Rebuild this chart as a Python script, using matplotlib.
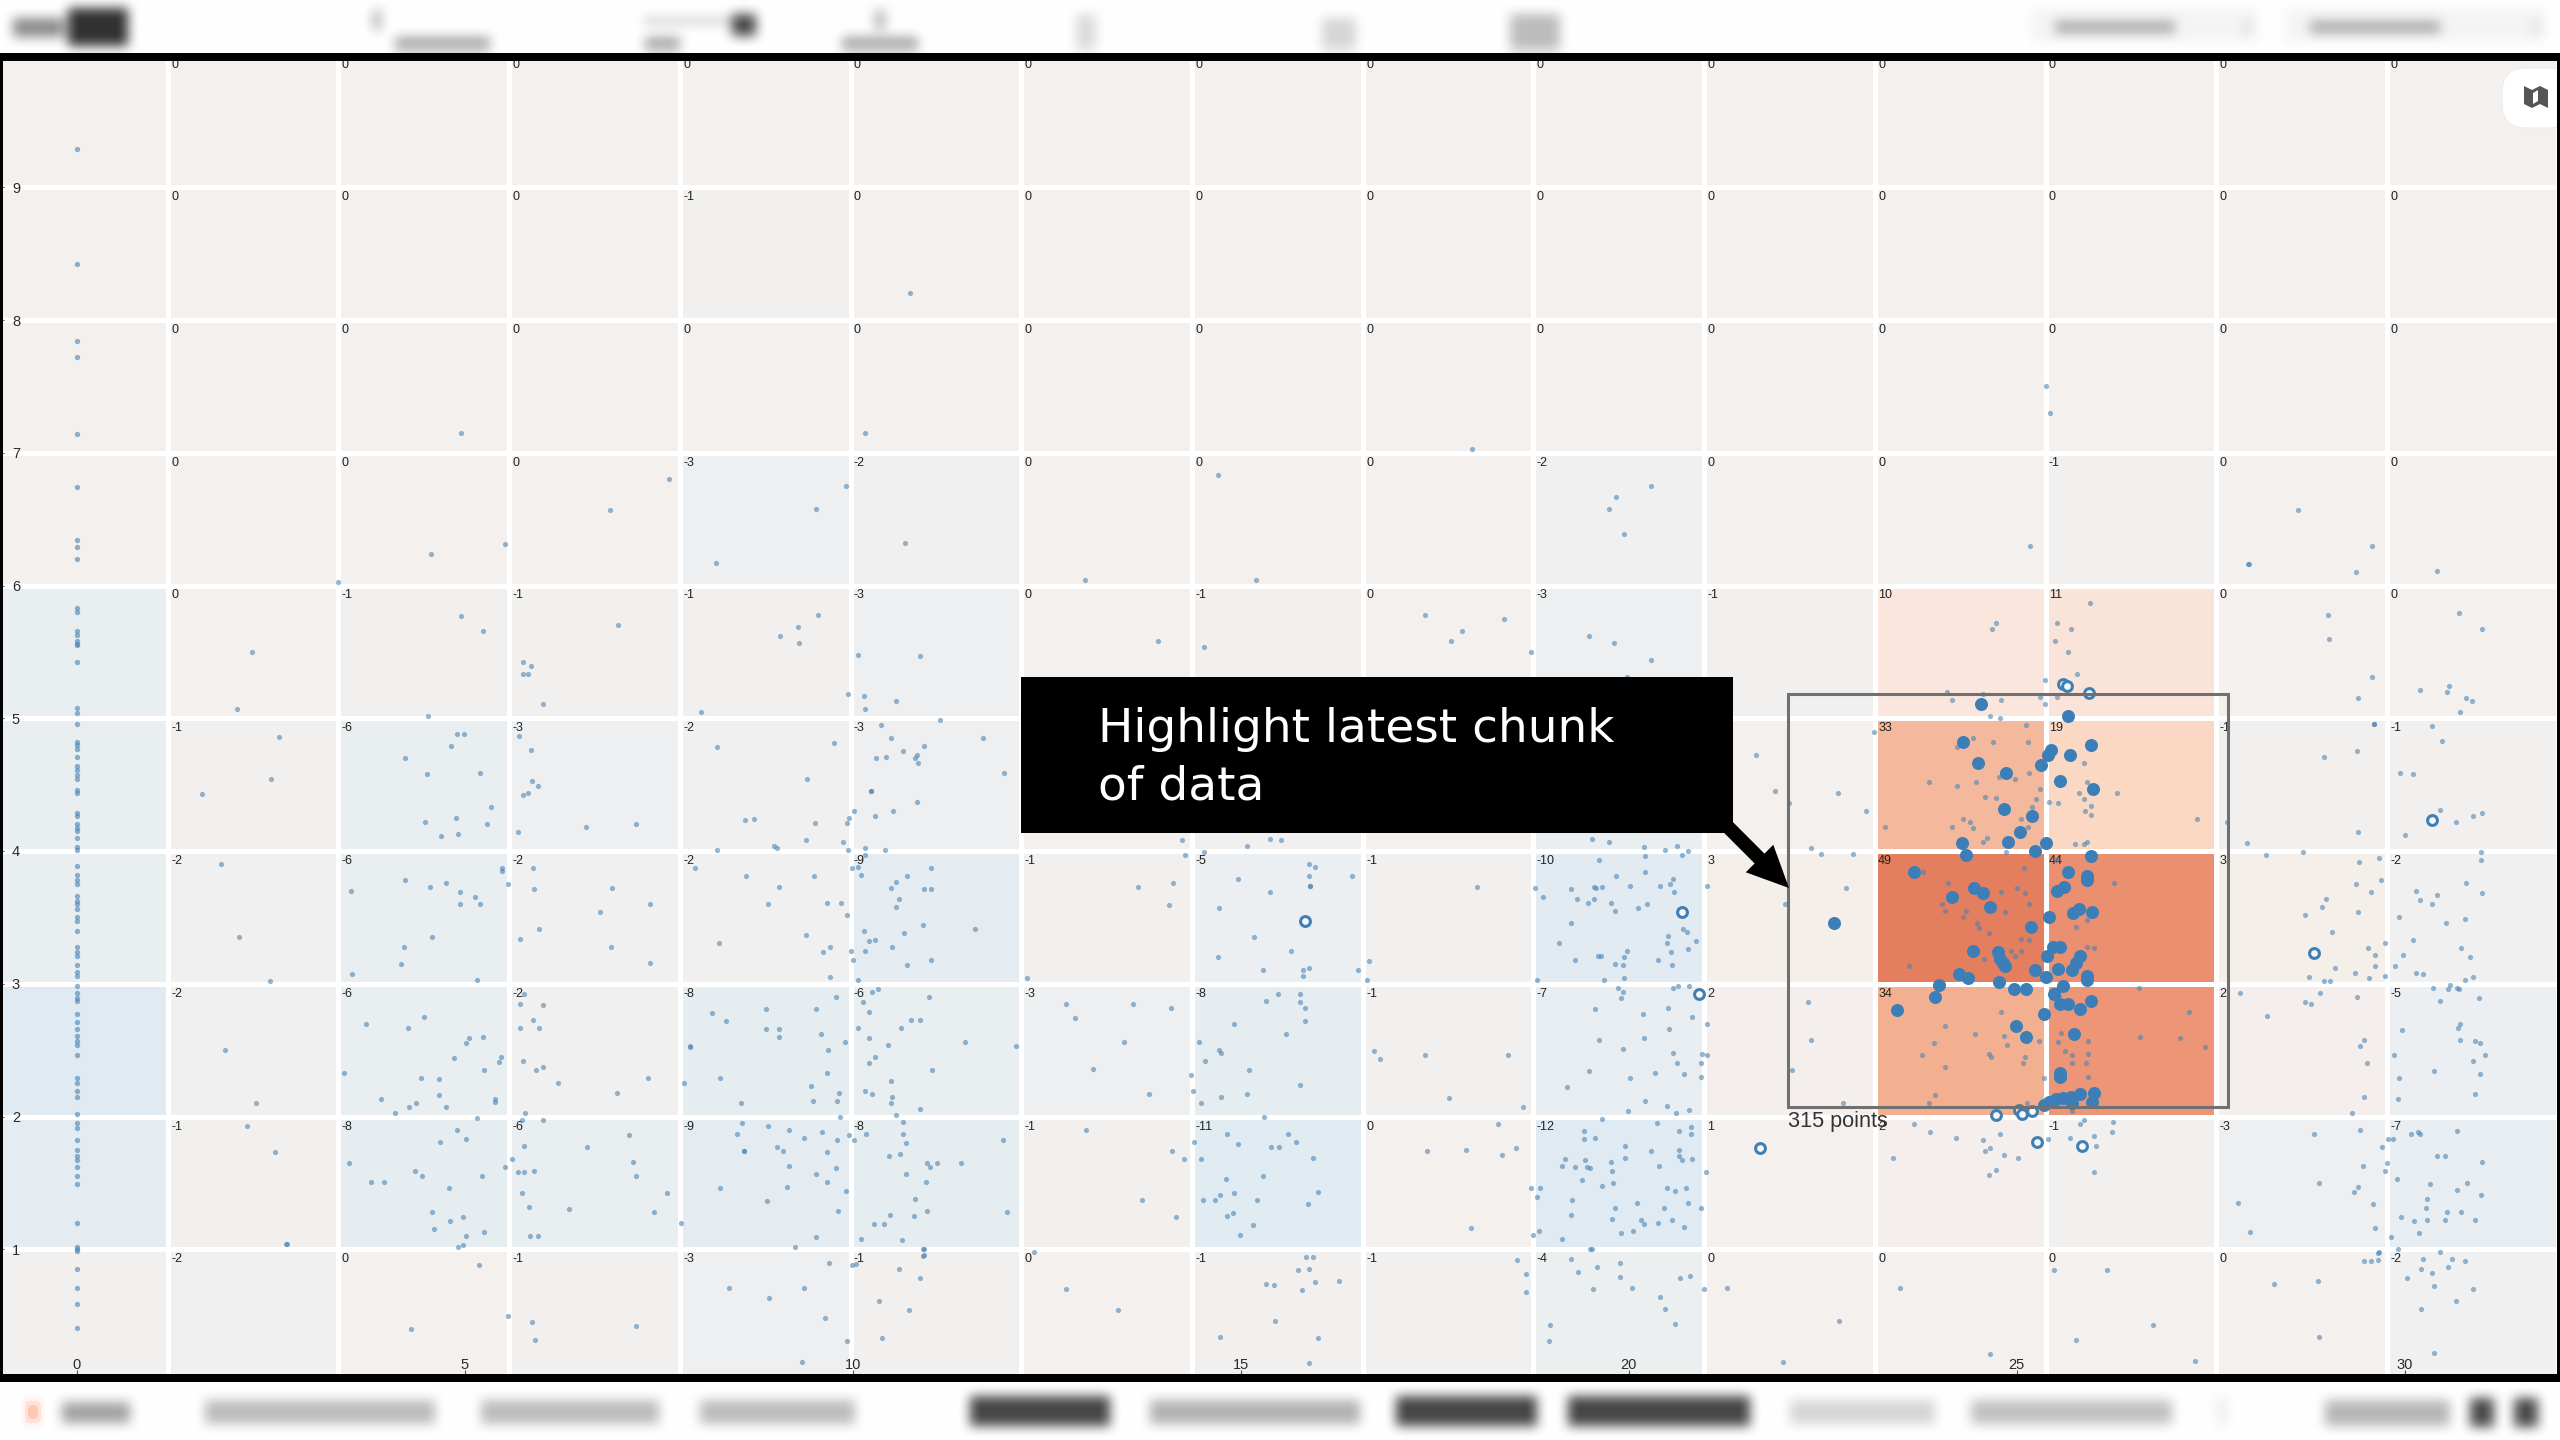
"""Blurred dashboard screenshot: binned scatter heatmap with a highlighted selection."""

import numpy as np
import matplotlib
matplotlib.use("Agg")
import matplotlib.pyplot as plt
from matplotlib.colors import LinearSegmentedColormap, Normalize
from matplotlib.patches import Rectangle, FancyBboxPatch, FancyArrowPatch, Polygon

plt.rcParams["font.family"] = ["Liberation Sans", "DejaVu Sans"]

# bin values, top row first, columns left to right
row_9 = [0, 0, 0, 0, 0, 0, 0, 0, 0, 0, 0, 0, 0, 0, 0]
row_8 = [0, 0, 0, 0, -1, 0, 0, 0, 0, 0, 0, 0, 0, 0, 0]
row_7 = [0, 0, 0, 0, 0, 0, 0, 0, 0, 0, 0, 0, 0, 0, 0]
row_6 = [0, 0, 0, 0, -3, -2, 0, 0, 0, -2, 0, 0, -1, 0, 0]
row_5 = [-6, 0, -1, -1, -1, -3, 0, -1, 0, -3, -1, 10, 11, 0, 0]
row_4 = [-6, -1, -6, -3, -2, -3, 0, -1, 0, -6, 1, 33, 19, -1, -1]
row_3 = [-6, -2, -6, -2, -2, -9, -1, -5, -1, -10, 3, 49, 44, 3, -2]
row_2 = [-12, -2, -6, -2, -8, -6, -3, -8, -1, -7, 2, 34, 42, 2, -5]
row_1 = [-9, -1, -8, -6, -9, -8, -1, -11, 0, -12, 1, 2, -1, -3, -7]
row_0 = [-1, -2, 0, -1, -3, -1, 0, -1, -1, -4, 0, 0, 0, 0, -2]
bin_rows = [row_9, row_8, row_7, row_6, row_5, row_4, row_3, row_2, row_1, row_0]

x_edges = [-1.03, 1.17, 3.37, 5.57, 7.77, 9.97, 12.17, 14.37, 16.57, 18.77, 20.97, 23.17, 25.37, 27.57, 29.77, 31.97]
y_edges = [10, 9, 8, 7, 6, 5, 4, 3, 2, 1, 0]
x_ticks = [0, 5, 10, 15, 20, 25, 30]
y_ticks = [1, 2, 3, 4, 5, 6, 7, 8, 9]

# the run of points sitting exactly on x = 0
zero_y = [9.29, 8.42, 7.84, 7.72, 7.14, 6.74, 6.34, 6.29, 6.20, 5.83, 5.80, 5.66, 5.63, 5.58, 5.56, 5.55, 5.42,
          5.08, 5.04, 4.96, 4.82, 4.80, 4.77, 4.71, 4.64, 4.61, 4.57, 4.54, 4.46, 4.44, 4.29, 4.26, 4.20, 4.17,
          4.15, 4.10, 4.03, 4.01, 3.89, 3.82, 3.78, 3.75, 3.66, 3.62, 3.60, 3.56, 3.50, 3.47, 3.40, 3.28, 3.24,
          3.21, 3.14, 3.09, 3.06, 2.98, 2.93, 2.89, 2.87, 2.77, 2.71, 2.66, 2.61, 2.57, 2.54, 2.46, 2.29, 2.25,
          2.19, 2.15, 2.02, 1.95, 1.91, 1.82, 1.75, 1.70, 1.67, 1.62, 1.55, 1.49, 1.20, 1.02, 1.00, 0.99, 0.85,
          0.71, 0.59, 0.41]

# small points, by stretch of the x axis
small_a = [(2.25, 5.50), (2.06, 5.07), (4.95, 5.77), (5.23, 5.66), (4.53, 5.02), (6.97, 5.70), (5.75, 5.42),
           (5.85, 5.39), (5.75, 5.33), (5.81, 5.33), (6.0, 5.11), (3.36, 6.03), (2.60, 4.86), (2.50, 4.54),
           (1.61, 4.43), (4.90, 4.88), (4.99, 4.88), (4.82, 4.79), (4.23, 4.70), (4.51, 4.58), (5.19, 4.59),
           (5.33, 4.33), (4.89, 4.25), (4.48, 4.22), (5.28, 4.20), (4.91, 4.13), (4.69, 4.11), (5.70, 4.87),
           (5.85, 4.76), (5.87, 4.53), (5.94, 4.49), (5.81, 4.44), (5.75, 4.42), (5.69, 4.14), (6.56, 4.18),
           (7.20, 4.20), (1.85, 3.90), (2.09, 3.35), (2.49, 3.02), (3.53, 3.70), (4.23, 3.78), (4.55, 3.73),
           (4.76, 3.76), (4.93, 3.69), (4.93, 3.60), (5.13, 3.65), (5.19, 3.60), (4.58, 3.35), (4.22, 3.28),
           (4.18, 3.15), (3.55, 3.07), (5.16, 3.03), (5.48, 3.87), (5.48, 3.85), (5.56, 3.75), (5.88, 3.87),
           (5.89, 3.71), (5.71, 3.34), (5.96, 3.41), (6.89, 3.72), (6.74, 3.54), (7.39, 3.60), (6.88, 3.28),
           (7.38, 3.16), (7.97, 3.87), (1.91, 2.50), (2.31, 2.10), (3.72, 2.70), (4.26, 2.67), (4.47, 2.75),
           (5.23, 2.60), (5.05, 2.59), (5.01, 2.55), (4.86, 2.44), (5.46, 2.45), (5.44, 2.41), (5.24, 2.35),
           (3.44, 2.33), (4.44, 2.29), (4.67, 2.28), (4.67, 2.16), (3.92, 2.13), (4.37, 2.10), (4.28, 2.07),
           (4.10, 2.03), (4.75, 2.07), (5.39, 2.13), (5.39, 2.11), (5.76, 2.92), (5.71, 2.85), (6.0, 2.84),
           (5.88, 2.73), (5.95, 2.67), (5.71, 2.67), (5.75, 2.42), (5.91, 2.35), (6.0, 2.37), (6.2, 2.25),
           (6.96, 2.18), (7.36, 2.29), (7.82, 2.25), (7.9, 2.53), (5.77, 2.03), (2.19, 1.93), (2.55, 1.73),
           (2.71, 1.04), (2.69, 1.04), (5.16, 1.99), (4.90, 1.90), (5.02, 1.83), (4.68, 1.81), (3.50, 1.65),
           (3.79, 1.51), (3.96, 1.51), (4.36, 1.59), (4.45, 1.55), (5.22, 1.55), (4.80, 1.46), (4.58, 1.28),
           (4.81, 1.21), (4.98, 1.24), (4.60, 1.15), (5.02, 1.10), (5.24, 1.13), (4.91, 1.02), (4.98, 1.03),
           (5.52, 1.62), (5.61, 1.68), (5.68, 1.58), (5.74, 1.97), (6.0, 1.97), (5.76, 1.78), (5.76, 1.58),
           (5.89, 1.59), (6.57, 1.77), (7.11, 1.86), (7.17, 1.66), (7.21, 1.55), (7.60, 1.42), (5.73, 1.42),
           (5.82, 1.32), (6.34, 1.30), (7.43, 1.28), (7.78, 1.20), (5.84, 1.10), (5.94, 1.10), (4.95, 7.15),
           (7.63, 6.80), (6.87, 6.57), (5.52, 6.31), (4.56, 6.24), (5.18, 0.88), (4.31, 0.40), (5.56, 0.50),
           (5.86, 0.45), (5.90, 0.32), (7.20, 0.42)]

small_b = [(9.55, 5.78), (9.29, 5.69), (9.06, 5.62), (9.30, 5.57), (10.07, 5.48), (10.87, 5.47), (9.94, 5.18),
           (10.14, 5.17), (10.56, 5.13), (10.16, 5.07), (8.04, 5.05), (13.93, 5.58), (14.53, 5.54), (12.99, 6.04),
           (15.19, 6.04), (8.25, 4.78), (9.75, 4.81), (9.41, 4.54), (8.61, 4.23), (8.73, 4.24), (9.51, 4.21),
           (9.40, 4.08), (8.98, 4.04), (9.02, 4.02), (8.25, 4.01), (9.87, 4.07), (9.94, 4.01), (9.92, 4.21),
           (9.95, 4.25), (10.02, 4.30), (10.36, 4.95), (10.49, 4.85), (10.64, 4.75), (10.30, 4.70), (10.43, 4.71),
           (10.92, 4.79), (11.12, 4.99), (10.82, 4.72), (10.80, 4.70), (10.84, 4.66), (11.67, 4.85), (11.95, 4.59),
           (10.23, 4.45), (10.23, 4.45), (10.83, 4.37), (10.52, 4.30), (10.29, 4.26), (10.15, 4.02), (10.41, 4.01),
           (14.24, 4.08), (14.28, 3.97), (15.08, 4.04), (15.38, 4.09), (15.52, 4.08), (14.52, 3.99), (8.62, 3.81),
           (9.50, 3.81), (9.05, 3.73), (8.90, 3.60), (9.67, 3.61), (9.84, 3.61), (9.93, 3.52), (8.28, 3.31),
           (9.40, 3.37), (9.70, 3.28), (9.61, 3.24), (9.97, 3.25), (10.0, 3.18), (9.71, 3.05), (10.16, 3.97),
           (9.99, 3.87), (10.06, 3.88), (10.10, 3.82), (10.70, 3.81), (10.55, 3.77), (11.01, 3.87), (10.49, 3.72),
           (10.92, 3.71), (11.0, 3.71), (10.60, 3.64), (10.56, 3.58), (10.90, 3.44), (11.57, 3.41), (10.14, 3.40),
           (10.66, 3.38), (10.21, 3.32), (10.28, 3.33), (10.16, 3.25), (10.51, 3.28), (10.70, 3.14), (11.0, 3.18),
           (10.07, 3.03), (13.68, 3.73), (14.13, 3.76), (14.07, 3.59), (12.24, 3.04), (15.88, 3.90), (15.95, 3.88),
           (14.96, 3.79), (15.88, 3.81), (16.43, 3.81), (15.89, 3.74), (15.89, 3.74), (15.38, 3.69), (14.72, 3.57),
           (15.17, 3.35), (15.65, 3.25), (14.70, 3.20), (15.28, 3.10), (15.80, 3.10), (15.88, 3.12), (15.80, 3.06),
           (16.51, 3.10), (16.65, 3.17), (16.62, 3.03), (9.78, 2.90), (8.88, 2.81), (9.53, 2.81), (8.19, 2.78),
           (8.36, 2.72), (8.88, 2.66), (9.05, 2.66), (9.05, 2.60), (9.59, 2.62), (9.90, 2.56), (7.90, 2.52),
           (9.68, 2.50), (8.29, 2.29), (9.67, 2.33), (9.46, 2.23), (9.82, 2.18), (9.49, 2.12), (9.80, 2.12),
           (8.56, 2.10), (10.24, 2.94), (10.32, 2.96), (10.98, 2.90), (10.13, 2.86), (10.21, 2.79), (10.75, 2.73),
           (10.87, 2.73), (10.06, 2.67), (10.62, 2.67), (10.21, 2.59), (10.45, 2.54), (11.44, 2.56), (12.10, 2.53),
           (10.28, 2.45), (10.21, 2.40), (11.02, 2.35), (10.49, 2.27), (10.16, 2.19), (10.24, 2.17), (10.50, 2.15),
           (10.49, 2.10), (10.86, 2.06), (9.83, 2.00), (10.55, 2.01), (12.74, 2.85), (12.86, 2.74), (13.61, 2.85),
           (14.10, 2.82), (13.49, 2.56), (13.10, 2.36), (13.81, 2.17), (15.48, 2.92), (15.76, 2.92), (15.32, 2.87),
           (15.76, 2.86), (15.82, 2.82), (15.83, 2.72), (14.91, 2.70), (15.58, 2.62), (14.46, 2.56), (14.72, 2.50),
           (14.75, 2.48), (14.54, 2.42), (15.10, 2.35), (14.36, 2.31), (14.38, 2.19), (14.75, 2.15), (15.08, 2.17),
           (15.76, 2.24), (14.48, 2.10), (15.30, 2.0), (16.72, 2.49), (16.79, 2.43), (8.57, 1.95), (8.50, 1.87),
           (8.91, 1.93), (9.17, 1.90), (9.37, 1.84), (9.60, 1.88), (9.79, 1.82), (9.95, 1.86), (10.01, 1.82),
           (9.02, 1.77), (9.10, 1.74), (8.60, 1.74), (8.60, 1.74), (9.67, 1.73), (9.18, 1.63), (9.53, 1.57),
           (9.78, 1.61), (9.67, 1.51), (9.15, 1.47), (8.29, 1.46), (8.89, 1.36), (9.91, 1.44), (9.81, 1.29),
           (9.53, 1.09), (9.26, 1.02), (10.17, 1.87), (10.64, 1.96), (10.64, 1.87), (10.68, 1.80), (10.61, 1.72),
           (10.47, 1.70), (10.95, 1.65), (10.99, 1.62), (11.09, 1.65), (11.39, 1.65), (11.93, 1.82), (10.68, 1.57),
           (10.94, 1.51), (10.80, 1.38), (10.48, 1.26), (10.79, 1.25), (10.95, 1.29), (11.98, 1.28), (10.27, 1.19),
           (10.40, 1.19), (10.10, 1.08), (10.63, 1.07), (10.91, 1.00), (10.91, 0.96), (13.01, 1.90), (14.11, 1.74),
           (14.27, 1.68), (13.72, 1.37), (14.16, 1.24), (14.82, 1.87), (14.96, 1.79), (14.40, 1.81), (14.49, 1.68),
           (15.61, 1.87), (15.71, 1.81), (15.39, 1.77), (15.49, 1.77), (15.93, 1.69), (15.28, 1.55), (14.81, 1.53),
           (14.73, 1.41), (14.91, 1.42), (14.51, 1.37), (14.66, 1.37), (15.21, 1.37), (15.99, 1.43), (15.87, 1.34),
           (14.82, 1.25), (14.90, 1.27), (15.16, 1.18), (14.99, 1.11), (10.73, 8.20), (10.15, 7.15), (9.91, 6.75),
           (9.53, 6.58), (10.67, 6.32), (8.24, 6.17), (14.70, 6.83), (8.40, 0.71), (8.92, 0.63), (9.37, 0.71),
           (9.69, 0.90), (9.99, 0.88), (10.04, 0.89), (9.64, 0.48), (9.93, 0.31), (9.35, 0.15), (10.37, 0.33),
           (10.33, 0.61), (10.72, 0.54), (10.60, 0.85), (10.86, 0.78), (10.90, 0.95), (10.90, 1.0), (12.33, 0.98),
           (12.74, 0.70), (13.41, 0.54), (14.73, 0.34), (15.33, 0.74), (15.43, 0.73), (15.44, 0.46), (15.73, 0.84),
           (15.84, 0.94), (15.93, 0.94), (15.88, 0.85), (15.95, 0.75), (15.79, 0.69), (16.26, 0.76), (15.99, 0.33),
           (15.88, 0.14)]

small_c = [(17.37, 5.78), (17.85, 5.66), (17.71, 5.58), (18.39, 5.75), (18.74, 5.50), (19.49, 5.62), (19.81, 5.57),
           (20.29, 5.44), (19.97, 5.31), (18.04, 3.73), (19.52, 4.09), (19.75, 4.07), (20.20, 4.03), (20.47, 4.01),
           (20.62, 4.04), (20.21, 3.96), (20.68, 3.97), (20.76, 4.0), (19.61, 3.93), (20.21, 3.84), (19.84, 3.81),
           (18.79, 3.72), (19.25, 3.71), (19.55, 3.73), (19.58, 3.72), (19.66, 3.73), (20.01, 3.74), (20.40, 3.74),
           (20.57, 3.79), (20.53, 3.75), (20.58, 3.69), (21.01, 3.74), (18.89, 3.65), (19.33, 3.64), (19.55, 3.64),
           (19.47, 3.61), (19.77, 3.61), (19.82, 3.55), (20.12, 3.57), (20.23, 3.60), (19.26, 3.46), (20.70, 3.41),
           (20.75, 3.39), (20.50, 3.36), (20.49, 3.31), (20.87, 3.32), (19.10, 3.31), (19.97, 3.25), (20.54, 3.24),
           (20.76, 3.26), (19.60, 3.21), (19.64, 3.21), (19.30, 3.18), (19.94, 3.20), (19.82, 3.15), (19.93, 3.14),
           (20.37, 3.18), (20.56, 3.14), (18.81, 3.03), (19.68, 3.03), (19.94, 3.04), (17.37, 2.46), (18.44, 2.46),
           (17.68, 2.14), (18.63, 2.07), (19.86, 2.97), (19.92, 2.94), (19.90, 2.89), (20.57, 2.97), (20.63, 2.98),
           (20.77, 2.98), (19.57, 2.81), (20.50, 2.82), (20.18, 2.77), (20.81, 2.75), (21.01, 2.70), (20.52, 2.66),
           (19.61, 2.58), (20.20, 2.59), (19.93, 2.51), (20.57, 2.48), (20.94, 2.47), (21.01, 2.46), (20.62, 2.40),
           (20.93, 2.40), (19.49, 2.34), (20.01, 2.29), (20.34, 2.33), (20.71, 2.32), (20.93, 2.30), (19.20, 2.22),
           (20.21, 2.12), (19.99, 2.04), (20.49, 2.08), (20.61, 2.03), (20.78, 2.05), (18.31, 1.94), (17.40, 1.74),
           (17.90, 1.75), (18.36, 1.71), (18.54, 1.76), (18.74, 1.46), (18.85, 1.46), (18.82, 1.39), (17.96, 1.16),
           (18.76, 1.11), (18.84, 1.14), (19.14, 1.08), (19.65, 1.98), (20.36, 1.95), (19.42, 1.89), (19.42, 1.83),
           (19.56, 1.84), (19.95, 1.78), (20.64, 1.89), (20.80, 1.92), (20.80, 1.87), (19.18, 1.68), (19.14, 1.63),
           (19.30, 1.62), (19.43, 1.67), (19.46, 1.62), (19.50, 1.61), (19.40, 1.52), (19.77, 1.66), (19.95, 1.69),
           (19.78, 1.59), (20.28, 1.74), (20.64, 1.75), (20.65, 1.70), (20.68, 1.67), (20.82, 1.68), (20.39, 1.63),
           (19.80, 1.50), (19.65, 1.48), (21.0, 1.58), (20.49, 1.46), (20.59, 1.44), (20.73, 1.46), (19.27, 1.37),
           (20.11, 1.35), (20.76, 1.35), (19.82, 1.31), (20.45, 1.31), (20.93, 1.31), (19.25, 1.26), (19.78, 1.23),
           (20.16, 1.22), (20.20, 1.19), (20.37, 1.20), (20.55, 1.22), (20.71, 1.17), (19.90, 1.12), (20.05, 1.14),
           (19.52, 1.0), (17.98, 7.03), (20.29, 6.75), (19.84, 6.67), (19.74, 6.58), (19.94, 6.39), (18.56, 0.92),
           (18.67, 0.81), (18.67, 0.68), (19.26, 0.93), (19.35, 0.83), (19.59, 0.87), (19.88, 0.90), (19.88, 0.79),
           (19.54, 0.70), (20.04, 0.71), (20.40, 0.64), (20.47, 0.55), (20.59, 0.44), (20.66, 0.78), (20.79, 0.80),
           (18.99, 0.43), (18.97, 0.31), (20.97, 0.70), (19.50, 1.0)]

small_d = [(21.64, 4.72), (21.88, 4.45), (22.69, 4.44), (22.06, 4.36), (23.06, 4.30), (23.16, 4.90), (22.35, 4.02),
           (22.47, 3.98), (22.89, 3.98), (22.80, 3.72), (22.01, 3.60), (22.31, 2.86), (22.35, 2.58), (22.10, 2.35),
           (22.76, 2.10), (23.68, 1.94), (23.88, 1.88), (24.21, 1.84), (23.41, 1.69), (24.57, 1.82), (24.66, 1.76),
           (24.59, 1.74), (24.78, 1.87), (24.83, 1.71), (25.01, 1.69), (24.73, 1.60), (24.64, 1.56), (25.40, 1.83),
           (25.69, 1.84), (25.82, 1.94), (25.87, 1.97), (26.0, 1.85), (26.02, 1.78), (26.24, 1.96), (26.23, 1.88),
           (26.0, 1.58), (25.94, 5.87), (24.73, 5.72), (24.68, 5.67), (25.52, 5.72), (25.70, 5.67), (25.49, 5.58),
           (25.66, 5.50), (25.77, 5.33), (25.36, 5.29), (24.10, 5.20), (24.17, 5.14), (24.57, 5.18), (24.80, 5.14),
           (25.30, 5.16), (25.36, 5.11), (25.52, 5.16), (24.66, 5.02), (24.78, 5.0), (25.12, 4.95), (25.14, 4.82),
           (24.69, 4.82), (24.43, 4.85), (24.23, 4.78), (23.87, 4.52), (24.23, 4.49), (24.47, 4.52), (24.77, 4.56),
           (24.98, 4.54), (25.16, 4.59), (24.59, 4.41), (24.73, 4.40), (25.30, 4.47), (25.25, 4.39), (25.20, 4.33),
           (25.41, 4.37), (25.53, 4.36), (25.86, 4.66), (25.90, 4.52), (25.80, 4.44), (25.86, 4.39), (25.96, 4.34),
           (25.88, 4.30), (25.96, 4.27), (26.29, 4.44), (27.32, 4.24), (23.30, 4.18), (24.16, 4.18), (24.31, 4.24),
           (24.40, 4.22), (24.43, 4.17), (24.62, 4.10), (24.57, 4.07), (25.05, 4.24), (25.15, 4.18), (25.75, 4.05),
           (25.87, 4.05), (25.91, 4.07), (24.86, 3.99), (25.09, 3.87), (25.51, 3.93), (23.79, 3.84), (24.11, 3.76),
           (26.25, 3.76), (24.79, 3.69), (25.0, 3.72), (25.10, 3.68), (24.03, 3.60), (24.07, 3.55), (24.35, 3.55),
           (24.85, 3.54), (25.16, 3.60), (24.31, 3.50), (24.49, 3.46), (24.51, 3.42), (24.64, 3.38), (25.05, 3.34),
           (25.16, 3.33), (25.91, 3.48), (25.76, 3.43), (25.91, 3.28), (26.0, 3.27), (24.92, 3.25), (24.98, 3.21),
           (25.05, 3.25), (24.58, 3.19), (23.61, 3.13), (26.58, 2.97), (24.79, 2.79), (24.08, 2.68), (24.46, 2.62),
           (23.93, 2.55), (23.78, 2.46), (24.07, 2.37), (24.64, 2.47), (24.67, 2.45), (24.83, 2.61), (24.87, 2.54),
           (25.10, 2.45), (25.08, 2.40), (25.29, 2.57), (25.57, 2.63), (25.53, 2.56), (25.62, 2.49), (25.92, 2.57),
           (25.92, 2.47), (25.71, 2.46), (25.71, 2.40), (25.89, 2.40), (25.35, 2.29), (25.92, 2.30), (23.94, 2.16),
           (23.87, 2.10), (26.59, 2.60), (27.10, 2.59), (27.22, 2.79), (27.43, 2.52), (25.71, 2.04), (25.13, 2.10),
           (25.38, 7.50), (25.43, 7.30), (25.17, 6.30), (21.26, 0.71), (22.71, 0.46), (21.99, 0.15), (23.50, 0.71),
           (24.65, 0.21), (25.48, 0.84), (26.16, 0.84), (25.76, 0.32), (26.76, 0.43), (27.29, 0.16)]

small_e = [(28.62, 6.57), (29.58, 6.30), (27.98, 6.16), (29.37, 6.10), (30.41, 6.11), (29.01, 5.78), (29.02, 5.60),
           (30.70, 5.79), (31.0, 5.67), (29.58, 5.31), (29.40, 5.15), (30.19, 5.21), (30.57, 5.24), (30.55, 5.20),
           (30.79, 5.15), (30.87, 5.13), (30.71, 5.05), (29.60, 4.96), (29.60, 4.96), (29.39, 4.75), (28.96, 4.71),
           (30.35, 4.94), (30.48, 4.83), (29.94, 4.59), (30.11, 4.58), (30.45, 4.31), (30.66, 4.22), (30.88, 4.26),
           (31.0, 4.29), (30.0, 4.12), (29.40, 4.14), (27.96, 4.06), (28.21, 3.97), (28.69, 3.99), (29.67, 3.95),
           (29.41, 3.92), (29.69, 3.78), (29.37, 3.75), (29.57, 3.69), (28.98, 3.64), (28.93, 3.58), (28.72, 3.52),
           (29.40, 3.54), (29.06, 3.39), (29.52, 3.27), (29.61, 3.22), (29.75, 3.31), (29.10, 3.12), (29.62, 3.13),
           (29.36, 3.08), (28.76, 3.05), (28.96, 3.02), (29.04, 3.02), (29.54, 3.04), (29.74, 3.06), (30.98, 3.99),
           (30.98, 3.93), (30.15, 3.70), (30.19, 3.63), (30.41, 3.67), (30.35, 3.60), (30.79, 3.76), (31.0, 3.68),
           (29.92, 3.50), (30.53, 3.46), (30.78, 3.49), (30.10, 3.33), (30.73, 3.27), (30.84, 3.20), (29.98, 3.22),
           (29.88, 3.13), (30.14, 3.08), (30.24, 3.07), (30.78, 3.03), (30.88, 3.05), (27.87, 2.93), (28.22, 2.76),
           (28.91, 2.93), (28.71, 2.86), (28.79, 2.85), (29.38, 2.90), (29.48, 2.58), (29.42, 2.53), (29.51, 2.40),
           (29.47, 2.15), (29.32, 2.03), (30.36, 2.97), (30.56, 2.96), (30.58, 2.99), (30.67, 2.97), (30.70, 2.96),
           (30.45, 2.87), (30.96, 2.89), (30.71, 2.70), (30.69, 2.67), (29.96, 2.65), (30.71, 2.58), (30.90, 2.57),
           (30.97, 2.55), (31.03, 2.46), (29.86, 2.46), (30.88, 2.42), (30.38, 2.34), (30.97, 2.32), (29.92, 2.29),
           (30.90, 2.17), (29.91, 2.13), (28.83, 1.87), (29.42, 1.90), (29.70, 1.77), (29.46, 1.63), (29.77, 1.65),
           (29.74, 1.59), (28.89, 1.50), (29.40, 1.47), (29.34, 1.43), (29.59, 1.34), (27.85, 1.35), (28.0, 1.13),
           (29.62, 1.16), (29.82, 1.09), (29.67, 0.98), (29.91, 1.0), (29.78, 1.83), (29.85, 1.83), (30.08, 1.87),
           (30.17, 1.88), (30.20, 1.87), (30.67, 1.89), (30.41, 1.70), (30.52, 1.70), (31.0, 1.66), (29.90, 1.53),
           (30.32, 1.49), (30.67, 1.45), (30.80, 1.50), (30.98, 1.41), (30.28, 1.38), (30.27, 1.31), (29.95, 1.24),
           (30.12, 1.21), (30.29, 1.22), (30.52, 1.22), (30.55, 1.28), (30.72, 1.28), (30.91, 1.22), (30.18, 1.12),
           (28.32, 0.74), (28.88, 0.76), (28.89, 0.34), (29.47, 0.91), (29.56, 0.91), (29.65, 0.97), (29.65, 0.92),
           (30.23, 0.93), (30.45, 0.98), (30.61, 0.93), (30.77, 0.91), (30.56, 0.87), (30.21, 0.85), (30.35, 0.82),
           (30.03, 0.78), (30.37, 0.72), (30.88, 0.70), (30.66, 0.61), (30.21, 0.55), (30.37, 0.22), (27.99, 6.16),
           (27.71, 4.22)]

# latest chunk: filled points
latest_pts = [(22.64, 3.46), (24.54, 5.11), (25.66, 5.02), (24.31, 4.82), (24.50, 4.66), (24.86, 4.59), (25.44, 4.76),
              (25.40, 4.72), (25.31, 4.65), (25.69, 4.72), (25.96, 4.80), (25.56, 4.53), (25.98, 4.47), (24.83, 4.32),
              (25.20, 4.26), (25.04, 4.14), (24.29, 4.06), (24.88, 4.07), (25.37, 4.06), (25.24, 4.0), (24.35, 3.97),
              (25.95, 3.96), (23.67, 3.84), (25.66, 3.84), (25.90, 3.81), (25.90, 3.78), (24.45, 3.72), (24.56, 3.68),
              (24.16, 3.65), (25.61, 3.73), (25.52, 3.70), (24.66, 3.58), (25.80, 3.56), (25.72, 3.53), (25.97, 3.54),
              (25.42, 3.50), (25.18, 3.43), (24.43, 3.25), (25.46, 3.28), (25.55, 3.28), (24.76, 3.24), (24.78, 3.19),
              (24.82, 3.16), (24.85, 3.13), (25.81, 3.21), (25.39, 3.21), (25.76, 3.16), (25.71, 3.10), (25.53, 3.11),
              (25.23, 3.10), (25.37, 3.05), (24.26, 3.07), (24.37, 3.04), (25.90, 3.06), (25.90, 3.03), (24.77, 3.01),
              (24.96, 2.96), (25.12, 2.96), (24.0, 2.99), (23.94, 2.90), (23.46, 2.80), (25.60, 2.98), (25.48, 2.92),
              (25.55, 2.85), (25.66, 2.85), (25.95, 2.87), (25.81, 2.81), (25.35, 2.77), (24.99, 2.68), (25.12, 2.60),
              (25.74, 2.62), (25.55, 2.33), (25.55, 2.30), (26.0, 2.18), (25.82, 2.17), (25.70, 2.15), (25.60, 2.14),
              (25.50, 2.13), (25.41, 2.11), (25.35, 2.09), (25.97, 2.11), (25.71, 2.10)]

# hollow points
open_pts = [(15.83, 3.47), (20.69, 3.54), (20.91, 2.92), (28.83, 3.23), (30.35, 4.23), (21.69, 1.76), (24.73, 2.01),
            (25.03, 2.05), (25.07, 2.02), (25.20, 2.04), (25.26, 1.81), (25.84, 1.78), (25.59, 5.26), (25.65, 5.24),
            (25.93, 5.19)]

# colour scale for the bins
scale_values = [-12, -5, 0, 3, 10, 19, 33, 34, 44, 49]
scale_colors = ["#dfeaf2", "#ebeff1", "#f3f0ee", "#f5efea", "#fae6dc", "#fbd8c4", "#f4b99c", "#f3b192", "#ea9071", "#e37f5f"]
cmap = LinearSegmentedColormap.from_list(
    "bins", [((v + 12) / 61, c) for v, c in zip(scale_values, scale_colors)])

# labels that lie under the black callout
hidden_labels = [(5, 6), (5, 7), (5, 8), (5, 9), (5, 10)]

# blurred UI bars, in screen pixels: x0, x1, y0, y1, darkness
top_ui = [(13, 64, 18, 37, .45), (68, 128, 8, 46, .8), (373, 381, 10, 30, .3), (395, 490, 37, 50, .35),
          (644, 735, 18, 24, .22), (732, 756, 14, 36, .7), (645, 680, 37, 50, .35), (842, 918, 37, 50, .35),
          (874, 886, 10, 30, .25), (1076, 1096, 14, 50, .14), (1322, 1356, 18, 50, .16), (1510, 1560, 14, 50, .26),
          (2030, 2258, 8, 42, .04), (2055, 2175, 21, 33, .33), (2244, 2250, 20, 34, .15),
          (2285, 2545, 8, 42, .04), (2310, 2440, 21, 33, .33), (2533, 2539, 20, 34, .15)]
bottom_ui = [(62, 130, 1402, 1423, .36), (205, 435, 1400, 1424, .26), (481, 659, 1400, 1424, .26),
             (700, 855, 1400, 1424, .26), (970, 1110, 1396, 1426, .72), (1150, 1360, 1400, 1424, .3),
             (1396, 1537, 1396, 1426, .72), (1568, 1750, 1396, 1426, .72), (1790, 1935, 1400, 1424, .16),
             (1971, 2172, 1400, 1424, .24), (2216, 2228, 1396, 1426, .06), (2325, 2450, 1400, 1426, .28),
             (2470, 2494, 1398, 1427, .7), (2514, 2538, 1398, 1427, .7)]


def blur_band(blocks, y0, y1, radius=6):
    img = np.ones((y1 - y0, 2560, 3))
    for x_a, x_b, y_a, y_b, dark in blocks:
        img[y_a - y0:y_b - y0, x_a:x_b] = 1 - dark
    kernel = np.ones(2 * radius + 1) / (2 * radius + 1)
    for _ in range(2):
        pad = np.pad(img, ((radius, radius), (radius, radius), (0, 0)), mode="edge")
        pad = np.apply_along_axis(np.convolve, 0, pad, kernel, mode="same")
        pad = np.apply_along_axis(np.convolve, 1, pad, kernel, mode="same")
        img = pad[radius:-radius, radius:-radius]
    return img


fig = plt.figure(figsize=(25.6, 14.4), dpi=100, facecolor="white")
# plot area: y runs 0..10 over screen rows 1382..54.5
ax = fig.add_axes([0, 58 / 1440, 1, 1327.5 / 1440])
ax.set_xlim(-0.992, 32)
ax.set_ylim(0, 10)

bins = np.array(bin_rows)
ax.pcolormesh(x_edges, y_edges, bins, cmap=cmap, norm=Normalize(-12, 49),
              edgecolors="white", linewidth=2.3, zorder=1)

for r, row in enumerate(bin_rows):
    for c, val in enumerate(row):
        if (r, c) in hidden_labels:
            continue
        dx = -1.5 if c == 0 else 2.4
        ax.annotate(str(val), (x_edges[c], y_edges[r]), xytext=(dx, -7.2), textcoords="offset points",
                    ha="left", va="center", fontsize=9, color="#222222", zorder=2)

small = np.array(small_a + small_b + small_c + small_d + small_e)
ax.scatter(np.zeros(len(zero_y)), zero_y, s=15, color="#4682b4", alpha=0.6, lw=0, zorder=3)
ax.scatter(small[:, 0], small[:, 1], s=14, color="#4682b4", alpha=0.58, lw=0, zorder=3)
latest = np.array(latest_pts)
ax.scatter(latest[:, 0], latest[:, 1], s=88, color="#3c7fb8", lw=0, zorder=4)
hollow = np.array(open_pts)
ax.scatter(hollow[:, 0], hollow[:, 1], s=50, facecolor="#f6f8f9", edgecolor="#3f7fb3", lw=2.2, zorder=5)

ax.set_xticks(x_ticks)
ax.set_yticks(y_ticks)
ax.tick_params(axis="x", direction="in", length=9, width=0.8, pad=-17, labelsize=10.5,
               colors="#555555", labelcolor="#2b2b2b")
ax.tick_params(axis="y", direction="in", length=3, width=0.8, pad=-8.6, labelsize=10.5,
               colors="#555555", labelcolor="#2b2b2b")
for lab in ax.get_yticklabels():
    lab.set_ha("left")
for sp in ax.spines.values():
    sp.set_visible(False)

# screen-space layer for the frame, callout and UI bars
ov = fig.add_axes([0, 0, 1, 1], zorder=5)
ov.patch.set_alpha(0)
ov.axis("off")
ov.imshow(blur_band(top_ui, 0, 53), extent=(0, 2560, 53, 0), aspect="auto", zorder=1)
ov.imshow(blur_band(bottom_ui, 1382, 1440), extent=(0, 2560, 1440, 1382), aspect="auto", zorder=1)
ov.set_xlim(0, 2560)
ov.set_ylim(1440, 0)

# status dot, soft orange
for r_px, a in [(11, .08), (8, .16), (5, .3)]:
    ov.add_patch(FancyBboxPatch((33 - r_px, 1412 - r_px * 1.4), r_px * 2, r_px * 2.8, boxstyle="round,pad=0,rounding_size=5",
                                fc="#ff8a5c", ec="none", alpha=a, zorder=2))

# black frame
for box in [(0, 52.7, 2560, 8), (0, 1374, 2560, 8), (0, 52.7, 3, 1329), (2557, 52.7, 3, 1329)]:
    ov.add_patch(Rectangle(box[:2], box[2], box[3], fc="black", ec="none", zorder=3))

# map button
ov.add_patch(FancyBboxPatch((2502, 68), 72, 60, boxstyle="round,pad=0,rounding_size=24", fc="white", ec="#eeeeee", lw=1, zorder=2))
ov.add_patch(Polygon([(2524, 86), (2532, 90), (2540, 86), (2548, 90), (2548, 108), (2540, 104), (2532, 108), (2524, 104)],
                     fc="#555555", ec="none", zorder=2.5))
ov.add_patch(Polygon([(2533, 93), (2538, 90), (2538, 101), (2533, 104)], fc="white", ec="none", zorder=2.6))

# selection box
ov.add_patch(Rectangle((1788, 694), 440, 413, fc="none", ec="#707070", lw=2.2, zorder=4))
ov.text(1788, 1121, "315 points", fontsize=15.6, color="#333333", ha="left", va="center", zorder=4)

# callout
ov.add_patch(Rectangle((1021, 677), 712, 156, fc="black", ec="none", zorder=6))
ov.add_patch(FancyArrowPatch((1727, 826), (1789, 888), arrowstyle="simple,head_width=28,head_length=30,tail_width=10",
                             mutation_scale=1, fc="black", ec="none", shrinkA=0, shrinkB=0, zorder=6))
ov.text(1098, 729, "Highlight latest chunk", fontsize=33.8, family=["DejaVu Sans"], color="white",
        ha="left", va="center", zorder=7)
ov.text(1098, 787, "of data", fontsize=33.8, family=["DejaVu Sans"], color="white",
        ha="left", va="center", zorder=7)

fig.savefig("out.png", dpi=100)
